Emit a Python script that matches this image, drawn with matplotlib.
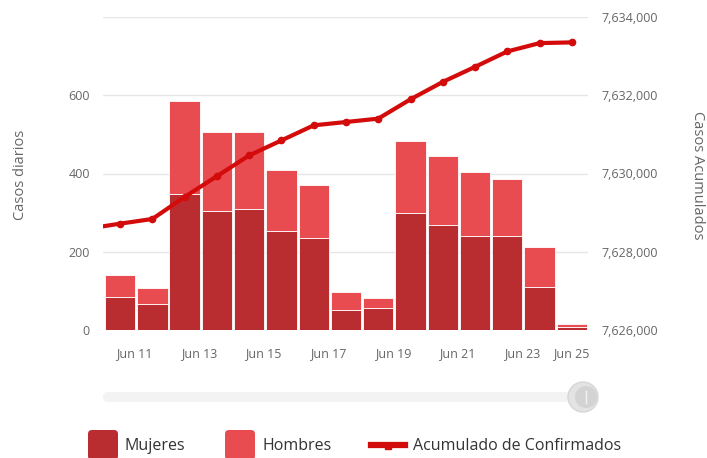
import matplotlib
matplotlib.use("Agg")
import matplotlib.pyplot as plt
from matplotlib.patches import FancyBboxPatch, Circle
from matplotlib.lines import Line2D
from matplotlib.ticker import FuncFormatter
from matplotlib.transforms import ScaledTranslation

plt.rcParams['font.family'] = ['Open Sans', 'DejaVu Sans']

# daily cases (Jun 11 - Jun 25)
dias = ['Jun 11', 'Jun 12', 'Jun 13', 'Jun 14', 'Jun 15', 'Jun 16', 'Jun 17', 'Jun 18',
        'Jun 19', 'Jun 20', 'Jun 21', 'Jun 22', 'Jun 23', 'Jun 24', 'Jun 25']
mujeres = [85, 67, 348, 305, 308, 252, 235, 51, 56, 299, 269, 241, 241, 111, 8]
hombres = [56, 40, 237, 201, 198, 158, 136, 45, 27, 184, 175, 163, 146, 101, 7]
# cumulative confirmed; first value is Jun 10 (just outside the visible range)
acumulado = [7628590, 7628718, 7628838, 7629402, 7629931, 7630462, 7630846, 7631231,
             7631316, 7631402, 7631897, 7632341, 7632726, 7633120, 7633333, 7633351]

C_MUJ = '#b92d31'
C_HOM = '#e84b50'
C_ACU = '#d40b0b'
GRAY = '#666666'

fig = plt.figure(figsize=(7.07, 4.58), dpi=100)
W, H = 707, 458
ax = fig.add_axes([103 / W, 1 - 330 / H, 485 / W, 313 / H])
ax2 = ax.twinx()

x = list(range(len(dias)))
ax.bar(x, mujeres, width=0.94, color=C_MUJ, edgecolor='white', linewidth=0.6, zorder=2)
ax.bar(x, hombres, bottom=mujeres, width=0.94, color=C_HOM, edgecolor='white', linewidth=0.6, zorder=2)

xl = [-1] + x
ax2.plot(xl, acumulado, color=C_ACU, lw=3, marker='o', ms=4.5, zorder=5, clip_on=True)

ax.set_xlim(-0.53, 14.5)
ax.set_ylim(0, 800)
ax.set_yticks([0, 200, 400, 600, 800])
ax.set_yticklabels(['0', '200', '400', '600', ''])
ax2.set_ylim(7626000, 7634000)
ax2.set_yticks(range(7626000, 7634001, 2000))
ax2.yaxis.set_major_formatter(FuncFormatter(lambda v, p: f'{int(v):,}'))

# date labels sit a little right of the bar centres, as in the original
ax.set_xticks([i + 0.45 for i in x[::2]])
ax.set_xticklabels(dias[::2])
ax.grid(axis='y', color='#e6e6e6', lw=1, zorder=0)
ax.set_axisbelow(True)
ax.set_zorder(ax2.get_zorder() - 1)
ax.patch.set_visible(False)

for a in (ax, ax2):
    for s in a.spines.values():
        s.set_visible(False)
    a.tick_params(length=0, labelsize=9, colors=GRAY)
ax.tick_params(axis='y', pad=9.5)
ax.tick_params(axis='x', pad=12)
ax2.tick_params(axis='y', pad=10)

# last label is pulled inside the plot edge
last = ax.get_xticklabels()[-1]
last.set_transform(last.get_transform() + ScaledTranslation(-0.15, 0, fig.dpi_scale_trans))

fig.text(21 / W, 1 - 175 / H, 'Casos diarios', rotation=90, ha='center', va='center',
         fontsize=10.5, color=GRAY)
fig.text(698 / W, 1 - 175 / H, 'Casos Acumulados', rotation=270, ha='center', va='center',
         fontsize=10.5, color=GRAY)

# navigator / scrollbar
px = fig.dpi_scale_trans
def P(v):
    return v / 100.0
track = FancyBboxPatch((P(103), P(H - 402)), P(467), P(10), boxstyle='round,pad=0,rounding_size=0.05',
                       transform=px, facecolor='#f3f3f3', edgecolor='none')
fig.patches.append(track)
fig.patches.append(Circle((P(583), P(H - 397)), P(15), transform=px, facecolor='#e3e3e3', edgecolor='#d6d6d6', lw=1))
fig.patches.append(Circle((P(586), P(H - 397)), P(11), transform=px, facecolor='#d3d3d3', edgecolor='none'))
fig.lines.append(Line2D([P(586), P(586)], [P(H - 403), P(H - 391)], transform=px, color='#f2f2f2', lw=1))

# legend
for x0, col, lab in [(88, C_MUJ, 'Mujeres'), (225, C_HOM, 'Hombres')]:
    fig.patches.append(FancyBboxPatch((P(x0), P(H - 460)), P(30), P(30),
                                      boxstyle='round,pad=0,rounding_size=0.04',
                                      transform=px, facecolor=col, edgecolor='none'))
    fig.text(P(x0 + 37), P(H - 446), lab, transform=px, ha='left', va='center',
             fontsize=11.5, color='#333333')
fig.lines.append(Line2D([P(371), P(405)], [P(H - 445), P(H - 445)], transform=px, color=C_ACU, lw=4.5))
fig.lines.append(Line2D([P(388)], [P(H - 446)], transform=px, color=C_ACU, marker='s', ms=5))
fig.text(P(413), P(H - 446), 'Acumulado de Confirmados', transform=px, ha='left', va='center',
         fontsize=11.5, color='#333333')

fig.savefig('out.png', dpi=100)
